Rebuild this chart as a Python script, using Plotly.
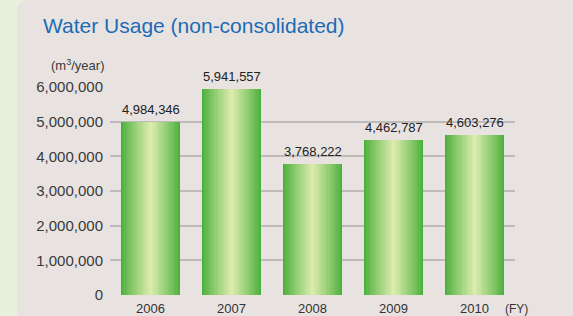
import plotly.graph_objects as go

years = ["2006", "2007", "2008", "2009", "2010"]
usage = [4984346, 5941557, 3768222, 4462787, 4603276]
y_ticks = [0, 1000000, 2000000, 3000000, 4000000, 5000000, 6000000]
y_tick_labels = ["0", "1,000,000", "2,000,000", "3,000,000", "4,000,000", "5,000,000", "6,000,000"]

W, H = 573, 316
L, R, T, B = 110, 58, 87, 21
PW, PH = W - L - R, H - T - B

def px(x):
    return (x - L) / PW

def py(y):
    return (H - B - y) / PH

def lerp(c1, c2, t):
    return "rgb(%d,%d,%d)" % tuple(round(a + (b - a) * t) for a, b in zip(c1, c2))

dark = (74, 175, 58)
light = (218, 235, 172)
N = 24
bar_w = 0.74

fig = go.Figure()
for k in range(N):
    t = k / (N - 1)
    fig.add_trace(go.Bar(
        x=years, y=usage,
        width=bar_w * (1 - k / N),
        marker=dict(color=lerp(dark, light, t ** 0.9), line=dict(width=0)),
        hoverinfo="skip", showlegend=False,
    ))

annotations = []
for i, v in enumerate(usage):
    annotations.append(dict(x=i, y=v, xref="x", yref="y", text=f"{v:,}", showarrow=False,
                            yanchor="bottom", yshift=3, font=dict(size=13, color="#222222")))

annotations += [
    dict(xref="paper", yref="paper", x=px(41), y=py(26), xanchor="left", yanchor="middle",
         text="Water Usage (non-consolidated)", showarrow=False,
         font=dict(size=21, color="#1D6BB6")),
    dict(xref="paper", yref="paper", x=px(106), y=py(65), xanchor="right", yanchor="middle",
         text="(m<sup>3</sup>/year)", showarrow=False, font=dict(size=13, color="#3a3a3a")),
    dict(xref="paper", yref="paper", x=px(503), y=py(309), xanchor="left", yanchor="middle",
         text="(FY)", showarrow=False, font=dict(size=12, color="#333333")),
]

green = "#E8F1DB"
r = 12
corner = (f"M {px(17)},{py(0)} L {px(17 + r)},{py(0)} "
          f"Q {px(17)},{py(0)} {px(17)},{py(r)} Z")
shapes = [
    dict(type="rect", xref="paper", yref="paper", x0=px(0), x1=px(17), y0=py(H), y1=py(0),
         fillcolor=green, line=dict(width=0), layer="below"),
    dict(type="path", xref="paper", yref="paper", path=corner,
         fillcolor=green, line=dict(width=0), layer="below"),
]

fig.update_layout(
    width=W, height=H,
    margin=dict(l=L, r=R, t=T, b=B, pad=0, autoexpand=False),
    paper_bgcolor="#E8E3E1", plot_bgcolor="rgba(0,0,0,0)",
    barmode="overlay", bargap=0,
    font=dict(family="Liberation Sans, Arial, sans-serif", color="#333333"),
    xaxis=dict(type="category", range=[-0.5, 4.5], showgrid=False, zeroline=False,
               showline=False, ticks="", tickfont=dict(size=13, color="#333333"),
               ticklabelstandoff=4, fixedrange=True, automargin=False),
    yaxis=dict(range=[0, 6000000], tickvals=y_ticks, ticktext=y_tick_labels,
               showgrid=True, gridcolor="#BEBBBA", gridwidth=1.5, zeroline=False,
               showline=False, ticks="", ticklabelstandoff=6,
               tickfont=dict(size=15, color="#3a3a3a"), fixedrange=True, automargin=False),
    annotations=annotations,
    shapes=shapes,
)
fig.update_traces(cliponaxis=False)

fig.write_html("out.html", config={"displayModeBar": False},
               post_script="document.body.style.margin='0';document.body.style.padding='0';")
